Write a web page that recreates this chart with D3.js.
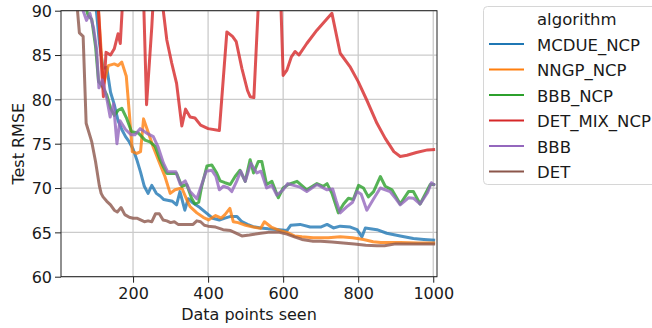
<!DOCTYPE html>
<html>
<head>
<meta charset="utf-8">
<script src="https://cdn.jsdelivr.net/npm/d3@7"></script>
<style>
  body { margin: 0; background: #fff; }
  text { font-family: "DejaVu Sans", sans-serif; fill: #1a1a1a; }
</style>
</head>
<body>
<script>
// series, [data points seen, test RMSE]
const MCDUE_NCP = [[90,97],[100,91],[110,86.5],[120,83.5],[130,83.6],[140,80.8],[150,79.4],[160,77.6],[170,76.6],[180,75.8],[190,75.2],[200,74.4],[210,73.2],[220,71.8],[230,70.2],[240,69.4],[250,70.3],[262,69.4],[272,69.1],[282,68.7],[295,68.6],[305,68.5],[316,68.1],[325,69.6],[338,67.5],[347,68.8],[360,68.3],[378,67.8],[395,67.2],[412,66.6],[430,66.4],[445,66.6],[460,66.8],[477,66.8],[490,66.2],[505,65.9],[520,65.65],[540,65.5],[560,65.4],[590,65.3],[610,65.2],[620,65.8],[645,65.9],[672,65.6],[700,65.6],[717,65.9],[734,65.5],[752,65.7],[779,65.6],[797,65.3],[810,64.5],[819,65.5],[850,65.3],[876,64.9],[912,64.6],[947,64.3],[975,64.2],[1005,64.1]];
const NNGP_NCP = [[95,96],[108,90],[121,81.6],[134,83.8],[150,84.0],[160,83.8],[170,84.2],[182,82.6],[190,78.5],[198,74.1],[210,73.9],[220,74.1],[228,77.8],[241,76.2],[254,74.6],[270,72.9],[285,71.3],[299,69.4],[312,69.8],[330,70.0],[343,68.7],[352,67.9],[370,67.2],[387,66.7],[401,66.4],[420,66.9],[435,66.6],[445,67.0],[458,67.7],[467,66.2],[480,66.1],[500,65.8],[520,65.6],[540,65.45],[550,66.2],[568,65.6],[592,65.2],[610,65.0],[630,64.6],[650,64.5],[680,64.4],[720,64.4],[752,64.5],[785,64.4],[814,64.2],[840,63.95],[860,63.85],[912,63.85],[960,63.8],[1005,63.8]];
const BBB_NCP = [[60,96],[70,91],[80,89.5],[90,89],[100,86],[108,82],[118,81.5],[130,80.5],[140,79.0],[150,78.2],[161,78.8],[170,79.0],[183,77.85],[196,76.35],[214,76.2],[232,75.4],[245,75.2],[259,74.7],[272,73.2],[281,72.4],[290,71.65],[316,71.65],[330,70.2],[343,70.4],[356,68.85],[365,68.2],[375,68.4],[383,70.2],[397,72.5],[410,72.6],[423,71.7],[432,70.8],[445,70.6],[459,70.4],[472,71.3],[485,72.0],[499,70.75],[512,73.2],[521,71.7],[534,73.0],[543,73.0],[556,70.4],[570,70.75],[587,68.9],[600,70.0],[614,70.4],[637,70.75],[663,69.8],[690,70.5],[707,70.2],[717,70.5],[730,69.4],[747,67.2],[761,68.2],[774,68.85],[787,68.7],[801,70.3],[814,70.0],[827,69.0],[841,69.6],[859,71.3],[872,70.2],[890,69.8],[912,68.2],[934,69.6],[947,69.6],[965,68.2],[992,70.4],[1005,70.4]];
const DET_MIX_NCP = [[100,96],[110,88.5],[117,82.9],[121,80.3],[128,85.3],[140,85.0],[150,85.7],[160,87.4],[166,86.3],[180,97],[200,100],[225,96],[236,79.4],[250,88.2],[260,96],[272,93],[290,86.7],[303,84.1],[316,81.8],[330,77.0],[340,78.9],[352,78.0],[365,77.9],[380,77.1],[400,76.7],[430,76.5],[450,87.6],[465,87.1],[475,86.5],[490,83.5],[505,81.0],[512,80.3],[522,80.2],[540,96],[590,96],[600,82.7],[610,83.3],[622,84.8],[632,85.4],[642,85.0],[663,86.3],[690,87.8],[717,89.1],[730,89.7],[752,85.2],[778,83.7],[800,82.0],[823,79.9],[850,77.3],[872,75.6],[895,74.1],[912,73.55],[930,73.7],[955,74.0],[985,74.3],[1005,74.35]];
const BBB = [[60,96],[67,90],[76,88.9],[85,89.7],[95,88],[103,85.6],[109,81.3],[118,82.2],[130,80.1],[139,78.0],[148,79.5],[157,75.0],[165,77.6],[180,76.6],[195,76.0],[205,76.0],[219,76.7],[236,76.2],[254,75.8],[267,74.6],[281,72.8],[292,71.85],[314,71.85],[326,70.4],[339,70.8],[352,69.6],[370,68.8],[383,70.4],[395,71.9],[410,72.0],[421,71.3],[430,69.8],[441,70.2],[454,70.0],[463,69.6],[476,70.75],[487,71.9],[499,70.75],[514,72.8],[530,71.7],[541,71.9],[556,70.0],[570,70.3],[583,69.2],[600,69.8],[612,70.5],[628,70.3],[645,70.1],[663,69.6],[690,70.4],[717,69.8],[732,69.9],[741,68.6],[752,67.2],[770,67.9],[785,68.4],[797,69.6],[808,69.3],[823,67.5],[840,68.7],[859,70.0],[885,69.6],[900,68.8],[912,68.1],[934,68.9],[947,68.85],[965,68.2],[985,69.5],[995,70.6],[1005,70.3]];
const DET = [[40,97],[50,91],[57,87.5],[67,87.1],[75,77.3],[90,75.2],[100,73.0],[110,70.3],[115,69.4],[120,69.0],[130,68.5],[140,68.1],[150,67.5],[158,67.3],[168,67.8],[178,67.0],[190,66.7],[200,66.6],[210,66.6],[220,66.4],[230,66.2],[240,66.3],[250,66.2],[260,67.1],[270,67.1],[280,66.4],[290,66.3],[300,66.1],[310,66.2],[320,65.9],[340,65.9],[360,65.9],[370,66.3],[380,66.2],[390,65.8],[400,65.7],[420,65.6],[440,65.3],[460,65.2],[480,64.8],[490,64.6],[510,64.7],[540,64.9],[560,65.0],[590,65.0],[610,64.8],[630,64.5],[650,64.2],[680,64.0],[700,64.0],[730,63.9],[760,63.8],[790,63.7],[820,63.55],[850,63.5],[870,63.5],[900,63.7],[950,63.7],[1005,63.7]];

const names = ["MCDUE_NCP", "NNGP_NCP", "BBB_NCP", "DET_MIX_NCP", "BBB", "DET"];
const series = [MCDUE_NCP, NNGP_NCP, BBB_NCP, DET_MIX_NCP, BBB, DET];
const colors = ["#1f77b4", "#ff7f0e", "#2ca02c", "#d62728", "#9467bd", "#8c564b"];
const xTicks = [200, 400, 600, 800, 1000];
const yTicks = [60, 65, 70, 75, 80, 85, 90];

var width = 652, height = 328;
var plot = {left: 61, right: 437, top: 10.7, bottom: 276.7};

var x = d3.scaleLinear().domain([8, 1010]).range([plot.left, plot.right]);
var y = d3.scaleLinear().domain([60, 90]).range([plot.bottom, plot.top]);

var svg = d3.select("body").append("svg")
    .attr("width", width)
    .attr("height", height);

svg.append("defs").append("clipPath").attr("id", "clip")
  .append("rect")
    .attr("x", plot.left).attr("y", plot.top)
    .attr("width", plot.right - plot.left).attr("height", plot.bottom - plot.top);

// grid
var grid = svg.append("g").attr("stroke", "#cbcbcb").attr("stroke-width", 1.3);
grid.selectAll(".gx").data(xTicks).join("line")
    .attr("x1", d => x(d)).attr("x2", d => x(d))
    .attr("y1", plot.top).attr("y2", plot.bottom);
grid.selectAll(".gy").data(yTicks).join("line")
    .attr("x1", plot.left).attr("x2", plot.right)
    .attr("y1", d => y(d)).attr("y2", d => y(d));

var line = d3.line().x(d => x(d[0])).y(d => y(d[1]));

svg.append("g")
    .attr("clip-path", "url(#clip)")
    .attr("fill", "none")
  .selectAll("path")
  .data(series)
  .join("path")
    .attr("stroke", (d, i) => colors[i])
    .attr("stroke-opacity", 0.8)
    .attr("stroke-width", 3)
    .attr("stroke-linejoin", "round")
    .attr("d", line);

// axes
var xAxis = svg.append("g")
    .attr("transform", `translate(0,${plot.bottom})`)
    .call(d3.axisBottom(x).tickValues(xTicks).tickSize(6).tickPadding(5).tickFormat(d3.format("d")));
var yAxis = svg.append("g")
    .attr("transform", `translate(${plot.left},0)`)
    .call(d3.axisLeft(y).tickValues(yTicks).tickSize(6).tickPadding(3).tickFormat(d3.format("d")));
[xAxis, yAxis].forEach(function(g) {
    g.select(".domain").remove();
    g.selectAll("line").attr("stroke", "#222").attr("stroke-width", 1);
    g.selectAll("text").attr("font-size", 16).attr("fill", "#1a1a1a");
});
xAxis.selectAll("text").attr("dy", "0.71em");
yAxis.selectAll("text").attr("dy", "0.36em");

svg.append("rect")
    .attr("x", plot.left).attr("y", plot.top)
    .attr("width", plot.right - plot.left).attr("height", plot.bottom - plot.top)
    .attr("fill", "none").attr("stroke", "#222").attr("stroke-width", 1);

svg.append("text")
    .attr("x", (plot.left + plot.right) / 2).attr("y", 320)
    .attr("text-anchor", "middle").attr("font-size", 16)
    .text("Data points seen");
svg.append("text")
    .attr("transform", `translate(23.5,${(plot.top + plot.bottom) / 2}) rotate(-90)`)
    .attr("text-anchor", "middle").attr("font-size", 16)
    .text("Test RMSE");

// legend
var legend = svg.append("g");
legend.append("rect")
    .attr("x", 483.5).attr("y", 6.5).attr("width", 200).attr("height", 178)
    .attr("rx", 4).attr("fill", "#fff").attr("stroke", "#d6d6d6");
legend.append("text")
    .attr("x", 537).attr("y", 25).attr("font-size", 16.5)
    .text("algorithm");
var item = legend.selectAll(".item").data(names).join("g")
    .attr("transform", (d, i) => `translate(0,${44 + i * 25.5})`);
item.append("line")
    .attr("x1", 489).attr("x2", 524)
    .attr("stroke", (d, i) => colors[i]).attr("stroke-width", 2);
item.append("text")
    .attr("x", 537).attr("y", 6.7).attr("font-size", 16.5)
    .text(d => d);
</script>
</body>
</html>
